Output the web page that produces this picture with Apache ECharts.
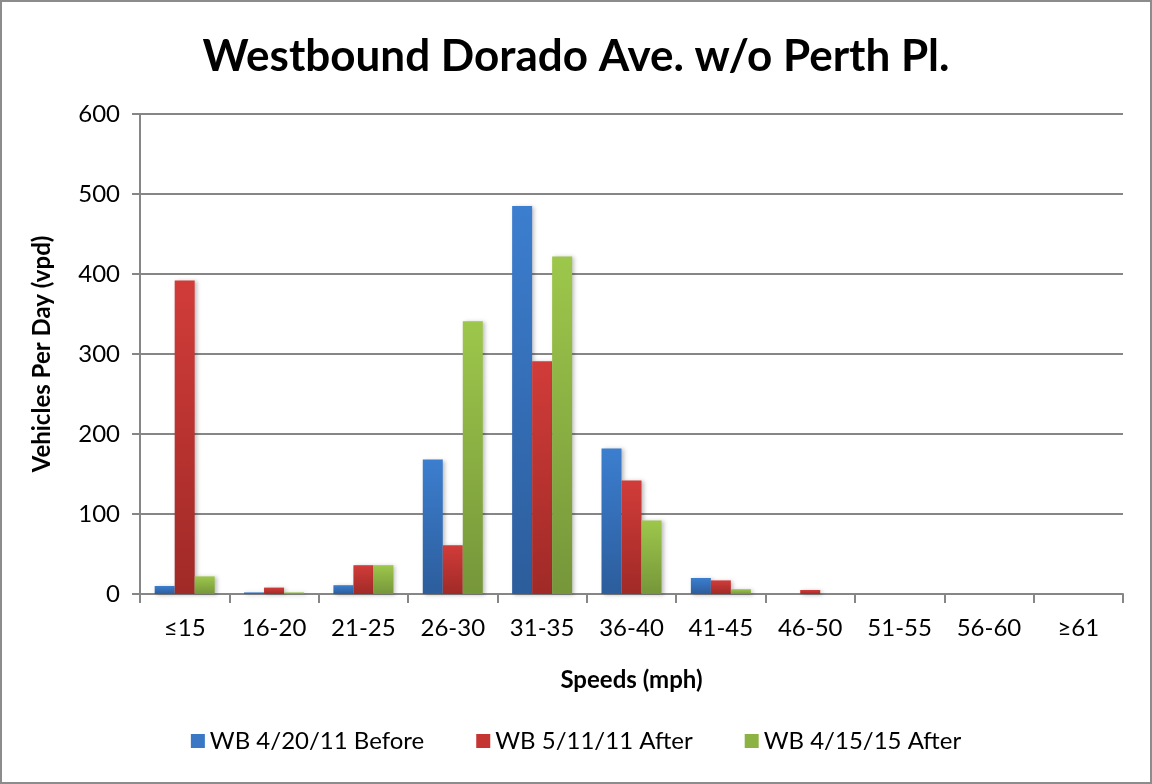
<!DOCTYPE html>
<html>
<head>
<meta charset="UTF-8">
<title>Westbound Dorado Ave. w/o Perth Pl.</title>
<script src="https://cdn.jsdelivr.net/npm/echarts@6/dist/echarts.min.js"></script>
<style>
html, body { margin: 0; padding: 0; background: #fff; }
#chart { width: 1152px; height: 784px; box-sizing: border-box; border: 2px solid #8c8c8c; }
</style>
</head>
<body>
<div id="chart"></div>
<script>
// speed bins and vehicle counts
var speedBins = ['≤15', '16-20', '21-25', '26-30', '31-35', '36-40', '41-45', '46-50', '51-55', '56-60', '≥61'];
var before2011 = [10, 2, 11, 168, 485, 182, 20, 0, 0, 0, 0];
var after2011 = [392, 8, 36, 61, 291, 142, 17, 5, 0, 0, 0];
var after2015 = [22, 2, 36, 341, 422, 92, 6, 0, 0, 0, 0];
var seriesNames = ['WB 4/20/11 Before', 'WB 5/11/11 After', 'WB 4/15/15 After'];
var yTicks = [0, 100, 200, 300, 400, 500, 600];

var fontFam = 'Lato, "Open Sans", sans-serif';

function grad(top, bottom) {
	return new echarts.graphic.LinearGradient(0, 0, 0, 1, [
		{offset: 0, color: top},
		{offset: 1, color: bottom}
	]);
}

function makeSeries(name, data, top, bottom) {
	return {
		name: name,
		type: 'bar',
		data: data,
		barWidth: 20,
		barGap: '0%',
		itemStyle: {
			color: grad(top, bottom),
			shadowColor: 'rgba(0,0,0,0.25)',
			shadowBlur: 4,
			shadowOffsetX: 2,
			shadowOffsetY: 1
		}
	};
}

var option = {
	animation: false,
	textStyle: {fontFamily: fontFam},
	title: {
		text: 'Westbound Dorado Ave. w/o Perth Pl.',
		left: 'center',
		top: 28,
		textStyle: {fontSize: 44, fontWeight: 'bold', color: '#000', fontFamily: fontFam}
	},
	legend: {
		bottom: 24,
		left: 'center',
		itemWidth: 14,
		itemHeight: 14,
		itemGap: 52,
		icon: 'rect',
		textStyle: {fontSize: 24, color: '#000', fontFamily: fontFam},
		data: [
			{name: seriesNames[0], itemStyle: {color: '#3a78c6'}},
			{name: seriesNames[1], itemStyle: {color: '#c53532'}},
			{name: seriesNames[2], itemStyle: {color: '#8db244'}}
		]
	},
	grid: {left: 138, right: 27, top: 112, bottom: 188, containLabel: false},
	xAxis: {
		type: 'category',
		data: speedBins,
		name: 'Speeds (mph)',
		nameLocation: 'middle',
		nameGap: 74,
		nameTextStyle: {fontSize: 24, fontWeight: 'bold', color: '#000'},
		axisLine: {lineStyle: {color: '#868686', width: 2}},
		axisTick: {show: true, length: 9, alignWithLabel: false, lineStyle: {color: '#868686', width: 2}},
		axisLabel: {fontSize: 24, color: '#000', margin: 22, fontFamily: fontFam}
	},
	yAxis: {
		type: 'value',
		min: yTicks[0],
		max: yTicks[yTicks.length - 1],
		interval: 100,
		name: 'Vehicles Per Day (vpd)',
		nameLocation: 'middle',
		nameGap: 86,
		nameTextStyle: {fontSize: 24, fontWeight: 'bold', color: '#000'},
		axisLine: {show: true, lineStyle: {color: '#868686', width: 2}},
		axisTick: {show: true, length: 8, lineStyle: {color: '#868686', width: 2}},
		axisLabel: {fontSize: 24, color: '#000', margin: 20, fontFamily: fontFam},
		splitLine: {lineStyle: {color: '#868686', width: 2}}
	},
	series: [
		makeSeries(seriesNames[0], before2011, '#3c7ecf', '#2c5d9c'),
		makeSeries(seriesNames[1], after2011, '#d13c39', '#a02a27'),
		makeSeries(seriesNames[2], after2015, '#9dc74b', '#76963a')
	]
};

var myChart = echarts.init(document.getElementById('chart'));
myChart.setOption(option);
</script>
</body>
</html>
